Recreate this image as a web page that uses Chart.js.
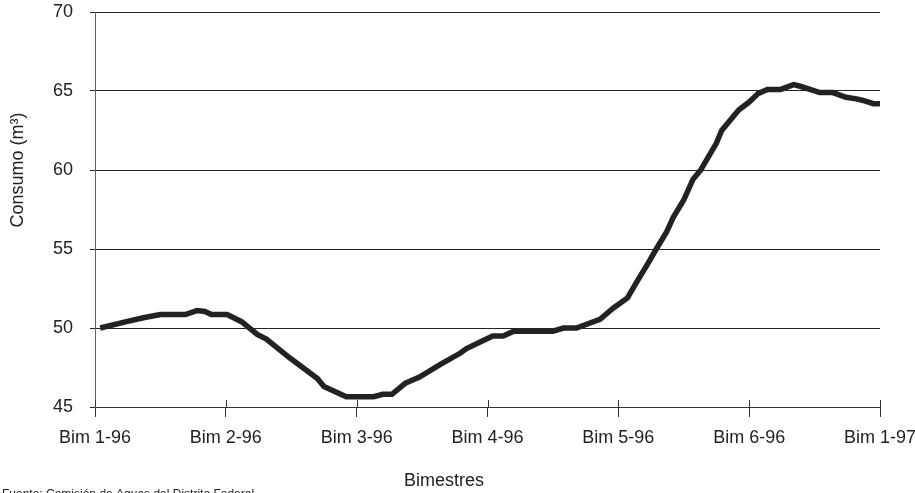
<!DOCTYPE html>
<html>
<head>
<meta charset="utf-8">
<script src="https://cdn.jsdelivr.net/npm/chart.js@4/dist/chart.umd.min.js"></script>
<style>
  html, body { margin: 0; padding: 0; background: #fff; }
  canvas { display: block; }
</style>
</head>
<body>
<canvas id="consumoChart" width="915" height="493"></canvas>
<script>
// etiquetas del eje X (bimestres)
const bimestres = ['Bim 1-96', 'Bim 2-96', 'Bim 3-96', 'Bim 4-96', 'Bim 5-96', 'Bim 6-96', 'Bim 1-97'];

// posicion en bimestres (0 = Bim 1-96) y consumo
const posicion = [0.04, 0.24, 0.37, 0.50, 0.69, 0.78, 0.84, 0.89, 1.01, 1.12, 1.24, 1.31, 1.49, 1.70, 1.75, 1.92,
  2.13, 2.20, 2.27, 2.37, 2.48, 2.64, 2.79, 2.84, 2.94, 3.04, 3.12, 3.20, 3.50, 3.58, 3.68, 3.86, 3.96,
  4.07, 4.14, 4.22, 4.29, 4.37, 4.42, 4.50, 4.57, 4.63, 4.75, 4.79, 4.92, 5.00, 5.07, 5.14, 5.24, 5.34,
  5.39, 5.54, 5.64, 5.74, 5.82, 5.87, 5.95, 6.00];
const consumo = [50.0, 50.4, 50.65, 50.85, 50.85, 51.1, 51.05, 50.85, 50.85, 50.4, 49.6, 49.3, 48.1, 46.8, 46.3, 45.65,
  45.65, 45.8, 45.8, 46.5, 46.9, 47.7, 48.4, 48.7, 49.1, 49.5, 49.5, 49.8, 49.8, 50.0, 50.0, 50.55, 51.25,
  51.9, 52.9, 54.0, 55.0, 56.1, 57.0, 58.1, 59.4, 60.0, 61.7, 62.5, 63.8, 64.3, 64.85, 65.1, 65.1, 65.4,
  65.3, 64.9, 64.9, 64.6, 64.5, 64.4, 64.2, 64.2];

const tituloY = 'Consumo (m³)';
const tituloX = 'Bimestres';
const fuente = 'Fuente: Comisión de Aguas del Distrito Federal';

const puntos = posicion.map((x, i) => ({ x: x, y: consumo[i] }));
const familia = '"Liberation Sans", Arial, sans-serif';

// titulos de ejes, fuente y marcas que cruzan el eje X
const textosExtra = {
  id: 'textosExtra',
  afterDraw(chart) {
    const c = chart.ctx;
    const ejeX = chart.scales.x;
    const abajo = chart.chartArea.bottom;
    c.save();
    c.strokeStyle = '#333';
    c.lineWidth = 1;
    bimestres.forEach((_, i) => {
      const px = Math.round(ejeX.getPixelForValue(i)) + 0.5;
      c.beginPath();
      c.moveTo(px, abajo - 7);
      c.lineTo(px, abajo);
      c.stroke();
    });
    c.fillStyle = '#222';
    c.font = '18px ' + familia;
    c.textAlign = 'center';
    c.textBaseline = 'middle';
    c.fillText(tituloX, 444, 481);
    c.save();
    c.translate(18, 170);
    c.rotate(-Math.PI / 2);
    c.fillText(tituloY, 0, 0);
    c.restore();
    c.font = '12px ' + familia;
    c.textAlign = 'left';
    c.textBaseline = 'top';
    c.fillText(fuente, 2, 489);
    c.restore();
  }
};

const ctx = document.getElementById('consumoChart').getContext('2d');
new Chart(ctx, {
  type: 'line',
  data: {
    datasets: [{
      data: puntos,
      borderColor: '#222',
      borderWidth: 5.5,
      pointRadius: 0,
      tension: 0,
      fill: false
    }]
  },
  options: {
    responsive: false,
    animation: false,
    devicePixelRatio: 1,
    layout: { padding: { top: 12, right: 35, left: 0, bottom: 0 } },
    plugins: { legend: { display: false }, tooltip: { enabled: false } },
    scales: {
      x: {
        type: 'linear',
        min: 0,
        max: 6,
        afterFit: s => { s.height = 86; s.paddingLeft = 0; s.paddingRight = 0; },
        border: { color: '#333', width: 1 },
        grid: { drawOnChartArea: false, tickLength: 10, color: '#333' },
        ticks: {
          stepSize: 1,
          padding: 10,
          color: '#222',
          font: { family: familia, size: 18 },
          callback: v => bimestres[v],
          maxRotation: 0
        }
      },
      y: {
        min: 45,
        max: 70,
        afterFit: s => { s.width = 95; s.paddingTop = 0; s.paddingBottom = 0; },
        border: { color: '#666', width: 1 },
        grid: { color: '#222', lineWidth: 1, tickLength: 5 },
        ticks: {
          stepSize: 5,
          padding: 17,
          color: '#222',
          font: { family: familia, size: 18 }
        }
      }
    }
  },
  plugins: [textosExtra]
});
</script>
</body>
</html>
